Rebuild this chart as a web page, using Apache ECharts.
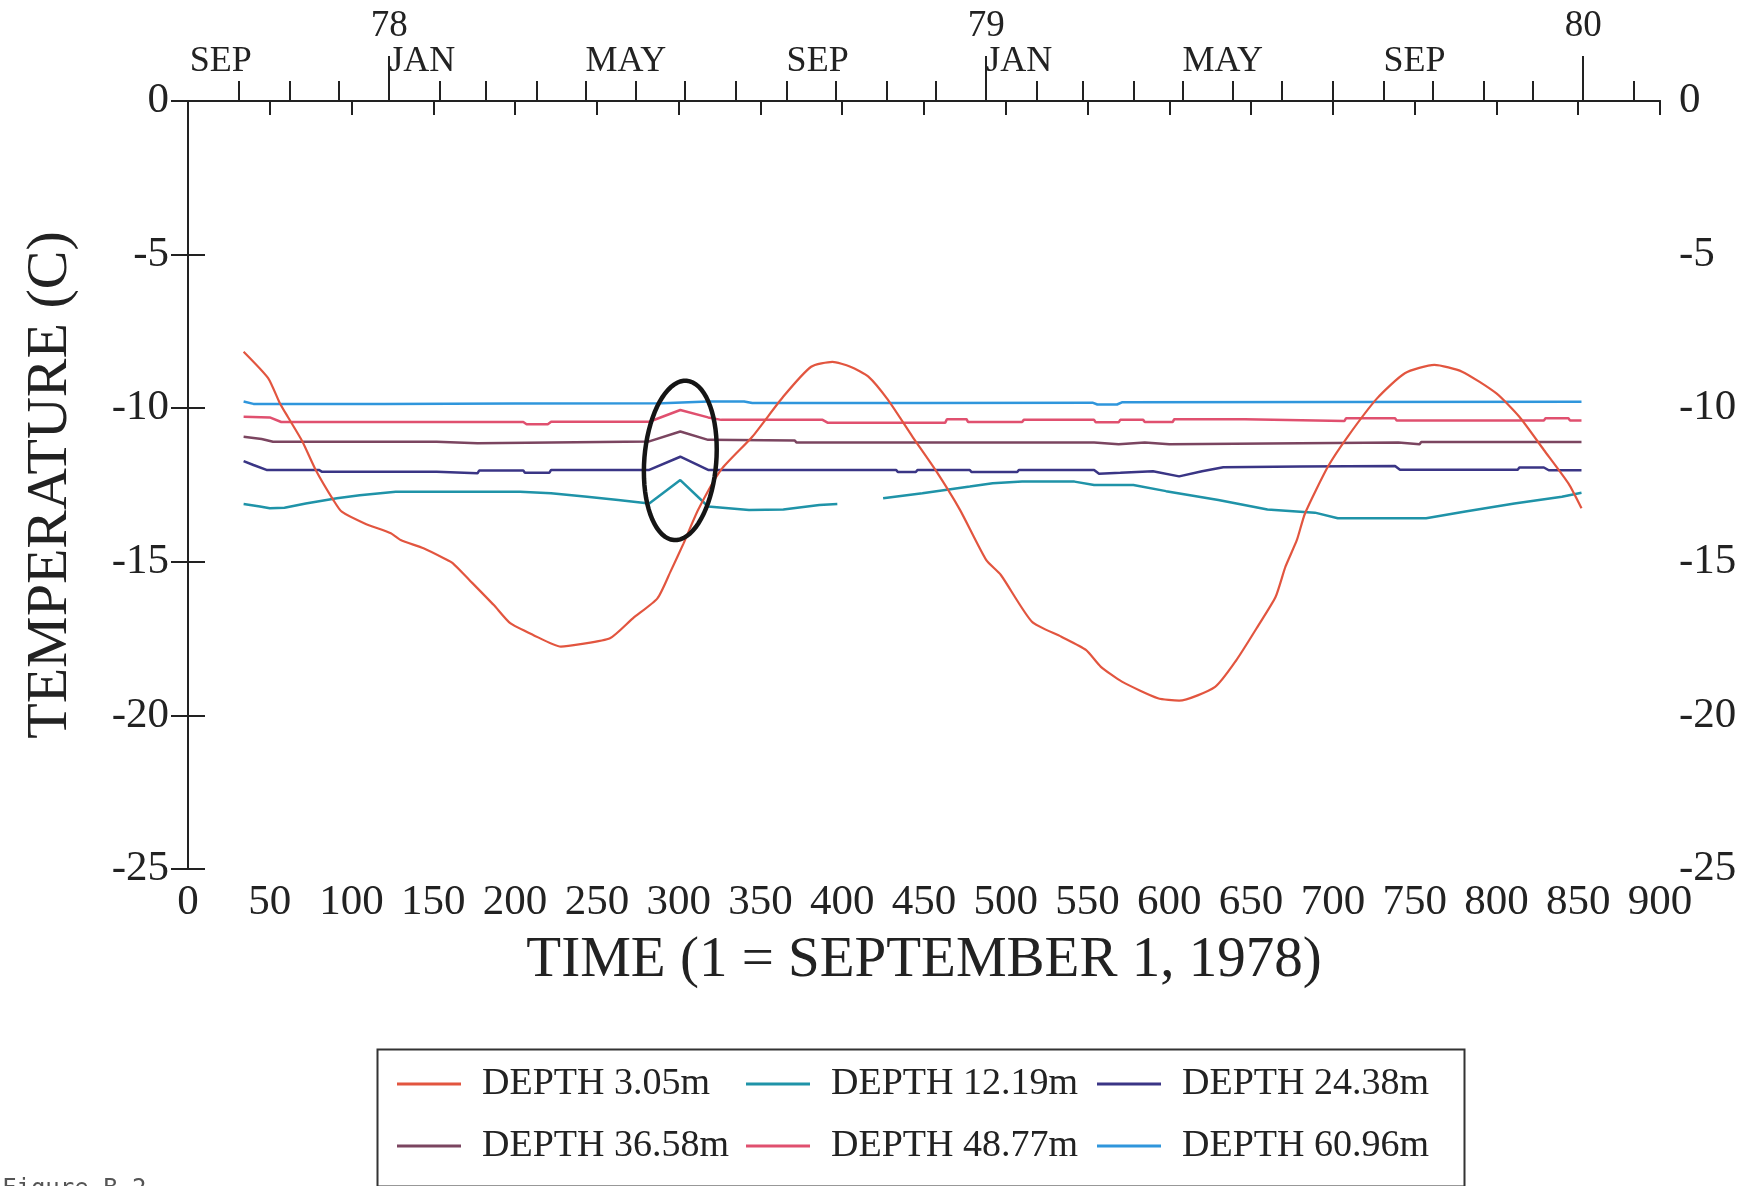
<!DOCTYPE html>
<html><head><meta charset="utf-8">
<script src="https://cdn.jsdelivr.net/npm/echarts@6/dist/echarts.min.js"></script>
<style>html,body{margin:0;padding:0;background:#fff}#c{width:1756px;height:1186px}</style>
</head><body><div id="c"></div>
<script>
// ---------- DATA ----------
const seriesNames = ['DEPTH 3.05m','DEPTH 12.19m','DEPTH 24.38m','DEPTH 36.58m','DEPTH 48.77m','DEPTH 60.96m'];

const depth305 = [[34,-8.16],[49,-9.02],[56,-9.82],[61,-10.28],[70,-11.09],[78,-12.0],[89,-13.0],[94,-13.37],[108,-13.75],[124,-14.07],[130,-14.29],[144,-14.56],[157,-14.9],[162,-15.05],[172,-15.59],[187,-16.41],[197,-17.0],[211,-17.38],[228,-17.76],[240,-17.68],[258,-17.49],[272,-16.84],[287,-16.19],[295,-15.32],[303,-14.4],[312,-13.3],[326,-12.0],[345,-10.93],[364,-9.62],[381,-8.65],[394,-8.49],[405,-8.65],[416,-8.97],[428,-9.73],[443,-10.93],[457,-12.01],[472,-13.31],[488,-14.94],[497,-15.43],[516,-16.95],[534,-17.44],[549,-17.87],[558,-18.41],[571,-18.9],[593,-19.44],[606,-19.52],[628,-19.07],[641,-18.2],[654,-17.11],[665,-16.14],[671,-15.16],[678,-14.29],[683,-13.42],[697,-11.9],[709,-10.93],[727,-9.68],[744,-8.86],[762,-8.59],[779,-8.81],[800,-9.52],[814,-10.28],[829,-11.36],[844,-12.45],[852,-13.26]];

const depth1219 = [[34,-13.12],[44,-13.2],[50,-13.26],[59,-13.24],[72,-13.1],[91,-12.93],[105,-12.83],[127,-12.72],[203,-12.72],[222,-12.77],[244,-12.88],[263,-12.99],[282,-13.1],[301,-12.34],[318,-13.2],[343,-13.31],[364,-13.3],[386,-13.15],[397,-13.12],null,[425,-12.93],[449,-12.77],[478,-12.55],[492,-12.44],[510,-12.39],[542,-12.39],[554,-12.5],[578,-12.5],[598,-12.7],[630,-12.99],[660,-13.3],[689,-13.4],[703,-13.58],[757,-13.58],[781,-13.36],[811,-13.1],[840,-12.88],[852,-12.75]];

const depth2438 = [[34,-11.72],[40,-11.85],[48,-12.01],[80,-12.01],[82,-12.07],[152,-12.07],[153,-12.12],[177,-12.12],[178,-12.03],[205,-12.03],[206,-12.1],[221,-12.1],[222,-12.01],[282,-12.01],[301,-11.58],[318,-12.01],[433,-12.01],[434,-12.08],[445,-12.08],[446,-12.01],[478,-12.01],[479,-12.08],[507,-12.08],[508,-12.01],[554,-12.01],[557,-12.13],[570,-12.1],[590,-12.05],[606,-12.22],[620,-12.05],[633,-11.92],[680,-11.9],[738,-11.88],[741,-12.0],[813,-12.0],[814,-11.93],[829,-11.93],[832,-12.02],[852,-12.02]];

const depth3658 = [[34,-10.93],[45,-11.0],[52,-11.09],[152,-11.09],[153,-11.14],[177,-11.14],[178,-11.08],[282,-11.08],[301,-10.76],[318,-11.03],[371,-11.05],[372,-11.12],[554,-11.12],[555,-11.17],[569,-11.17],[570,-11.12],[585,-11.12],[586,-11.17],[600,-11.17],[601,-11.12],[740,-11.12],[741,-11.17],[753,-11.17],[754,-11.1],[852,-11.1]];

const depth4877 = [[34,-10.28],[50,-10.3],[57,-10.45],[205,-10.45],[207,-10.52],[220,-10.52],[222,-10.44],[282,-10.44],[301,-10.06],[318,-10.3],[326,-10.38],[388,-10.38],[391,-10.47],[463,-10.47],[464,-10.36],[476,-10.36],[477,-10.45],[510,-10.45],[511,-10.38],[554,-10.38],[555,-10.46],[569,-10.46],[570,-10.38],[584,-10.38],[585,-10.45],[602,-10.45],[603,-10.36],[646,-10.36],[647,-10.42],[707,-10.42],[708,-10.33],[738,-10.33],[739,-10.4],[829,-10.4],[830,-10.33],[844,-10.33],[845,-10.4],[852,-10.4]];

const depth6096 = [[34,-9.78],[40,-9.86],[120,-9.86],[200,-9.85],[290,-9.84],[318,-9.78],[340,-9.78],[345,-9.83],[450,-9.83],[553,-9.82],[556,-9.88],[568,-9.88],[571,-9.81],[700,-9.8],[852,-9.79]];

// top (calendar) axis
const monthTickDays = [31,62,92,123,154,182,213,243,274,304,335,366,396,427,457,488,519,547,578,608,639,669,700,731,761,792,822,853,884];
const monthLabelDays = [1,123,243,366,488,608,731];
const monthLabelTexts = ['SEP','JAN','MAY','SEP','JAN','MAY','SEP'];
const yearDays = [123,488,853];
const yearTexts = ['78','79','80'];

// hand-drawn annotation ellipse: centre day, centre temp, half-width (days), half-height (deg C), tilt (rad)
const ellipseMark = [301, -11.7, 22, 2.6, 0.08];

const xTitle = 'TIME (1 = SEPTEMBER 1, 1978)';
const yTitle = 'TEMPERATURE (C)';

// ---------- CHART ----------
const FONT = '"Liberation Serif", "Times New Roman", serif';
const INK = '#222';
const colors = ['#e2553f','#1f93a8','#3a3585','#7b4560','#e0506f','#2f96dc'];
const allData = [depth305, depth1219, depth2438, depth3658, depth4877, depth6096];

const chart = echarts.init(document.getElementById('c'), null, {renderer:'canvas'});

const axisLineStyle = {show:true, lineStyle:{color:INK, width:2}};

const lineSeries = seriesNames.map((n,i)=>({
  name:n, type:'line', xAxisIndex:0, yAxisIndex:0,
  data: allData[i], symbol:'none', showSymbol:false, connectNulls:false,
  smooth: i===0 ? 0.2 : false,
  lineStyle:{color:colors[i], width: i===0 ? 2.2 : 2.5},
  itemStyle:{color:colors[i]},
  z: i===0 ? 3 : 2,
  animation:false
}));

const legendCommon = {
  orient:'vertical', top:1059, itemWidth:64, itemHeight:3, itemGap:22,
  icon:'rect',
  textStyle:{fontFamily:FONT, fontSize:38, color:INK, lineHeight:40, padding:[0,0,0,16]},
  selectedMode:false
};

chart.setOption({
  animation:false,
  backgroundColor:'#fff',
  color: colors,
  grid:{left:188, right:96, top:101, bottom:317, containLabel:false, outerBoundsMode:'none'},
  xAxis:[
    {
      type:'value', position:'bottom', min:0, max:900, interval:50,
      axisLine:axisLineStyle,
      axisTick:{show:true, inside:false, length:14, lineStyle:{color:INK, width:2}},
      axisLabel:{fontFamily:FONT, fontSize:43, color:INK, margin:12},
      splitLine:{show:false},
      name:xTitle, nameLocation:'middle', nameGap:64,
      nameTextStyle:{fontFamily:FONT, fontSize:57, color:INK}
    },
    {
      type:'value', position:'top', min:0, max:900,
      axisLine:axisLineStyle,
      axisTick:{show:true, inside:false, length:20, customValues:monthTickDays, lineStyle:{color:INK, width:2}},
      axisLabel:{show:true, customValues:monthLabelDays, align:'left', fontFamily:FONT, fontSize:36, color:INK, margin:21,
        formatter:(v)=>{const k=monthLabelDays.indexOf(v); return k>=0?monthLabelTexts[k]:'';}},
      splitLine:{show:false}
    },
    {
      type:'value', position:'top', min:0, max:900,
      axisLine:{show:false},
      axisTick:{show:true, inside:false, length:45, customValues:yearDays, lineStyle:{color:INK, width:2}},
      axisLabel:{show:true, customValues:yearDays, fontFamily:FONT, fontSize:37, color:INK, margin:56,
        formatter:(v)=>{const k=yearDays.indexOf(v); return k>=0?yearTexts[k]:'';}},
      splitLine:{show:false}
    }
  ],
  yAxis:[
    {
      type:'value', position:'left', min:-25, max:0, interval:5,
      axisLine:axisLineStyle,
      axisTick:{show:true, inside:false, length:17, lineStyle:{color:INK, width:2}},
      axisLabel:{fontFamily:FONT, fontSize:43, color:INK, margin:19},
      splitLine:{show:false},
      name:yTitle, nameLocation:'middle', nameGap:108, nameRotate:90,
      nameTextStyle:{fontFamily:FONT, fontSize:58, color:INK}
    },
    {
      type:'value', position:'right', min:-25, max:0, interval:5,
      axisLine:axisLineStyle,
      axisTick:{show:true, inside:false, length:17, lineStyle:{color:INK, width:2}},
      axisLabel:{fontFamily:FONT, fontSize:43, color:INK, margin:19},
      splitLine:{show:false}
    }
  ],
  legend:[
    Object.assign({}, legendCommon, {left:392, data:[seriesNames[0], seriesNames[3]]}),
    Object.assign({}, legendCommon, {left:741, data:[seriesNames[1], seriesNames[4]]}),
    Object.assign({}, legendCommon, {left:1092, data:[seriesNames[2], seriesNames[5]]})
  ],
  graphic:[
    {type:'rect', left:375, top:1047, shape:{width:1087, height:137}, style:{fill:'none', stroke:'#333', lineWidth:2}, silent:true},
    {type:'text', left:2, top:1178, style:{text:'Figure B-2', font:'24px "DejaVu Sans Mono", monospace', fill:'#555'}, silent:true}
  ],
  series: lineSeries.concat([{
    name:'annotation', type:'custom', xAxisIndex:0, yAxisIndex:0, silent:true, z:5,
    encode:{x:0, y:1},
    data:[ellipseMark],
    renderItem:function(params, api){
      const c = api.coord([api.value(0), api.value(1)]);
      const s = api.size([api.value(2), api.value(3)]);
      const a = api.value(4);
      const pts = [];
      for (let i=0;i<=72;i++){
        const t = i/72*Math.PI*2;
        const x = s[0]*Math.cos(t), y = s[1]*Math.sin(t);
        pts.push([c[0]+x*Math.cos(a)-y*Math.sin(a), c[1]+x*Math.sin(a)+y*Math.cos(a)]);
      }
      return {type:'polygon', shape:{points:pts}, style:{fill:'none', stroke:'#151515', lineWidth:4.5}};
    }
  }])
});
</script>
</body></html>
